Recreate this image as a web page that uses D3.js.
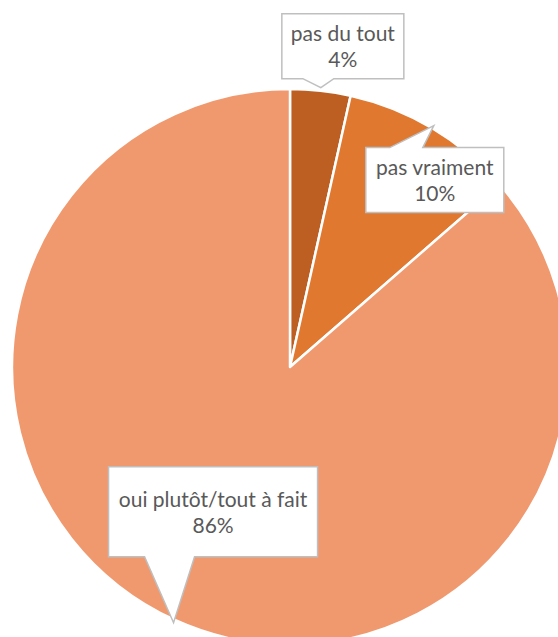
<!DOCTYPE html>
<html><head><meta charset="utf-8">
<script src="https://cdn.jsdelivr.net/npm/d3@7"></script>
<style>html,body{margin:0;padding:0;background:#fff;overflow:hidden}</style>
</head><body>
<svg id="chart" width="558" height="637"></svg>
<script>
const categories = ["pas du tout", "pas vraiment", "oui plutôt/tout à fait"];
const values = [3.5, 10.1, 86.4];
const colors = ["#BD5F23", "#E07830", "#F0996F"];

const W = 558, H = 637;
const cx = 290, cy = 367, R = 278;
const svg = d3.select("#chart");
const g = svg.append("g").attr("transform", `translate(${cx},${cy})`);

const pie = d3.pie().sort(null).value(d => d)(values);
const arc = d3.arc().innerRadius(0).outerRadius(R);

g.selectAll("path.slice").data(pie).enter().append("path")
  .attr("class", "slice")
  .attr("d", arc)
  .attr("fill", (d, i) => colors[i])
  .attr("stroke", "#fff")
  .attr("stroke-width", 2.5)
  .attr("stroke-linejoin", "round");

// callout layout (box relative to pointer tip)
const layout = [
  {dx: -39, dy: -74, w: 122, h: 65, b0: 21, b1: 52, side: "bottom"},
  {dx: -68, dy: 22, w: 138, h: 65, b0: 24, b1: 57, side: "top"},
  {dx: -65, dy: -156, w: 209, h: 90, b0: 36, b1: 86, side: "bottom"}
];

const total = d3.sum(values);
pie.forEach((d, i) => {
  const a = (d.startAngle + d.endAngle) / 2;
  const tx = cx + (R + 3) * Math.sin(a);
  const ty = cy - (R + 3) * Math.cos(a);
  const L = layout[i];
  const x0 = tx + L.dx, y0 = ty + L.dy, x1 = x0 + L.w, y1 = y0 + L.h;
  let pts;
  if (L.side === "bottom") {
    pts = [[x0, y0], [x1, y0], [x1, y1], [x0 + L.b1, y1], [tx, ty], [x0 + L.b0, y1], [x0, y1]];
  } else {
    pts = [[x0, y0], [x0 + L.b0, y0], [tx, ty], [x0 + L.b1, y0], [x1, y0], [x1, y1], [x0, y1]];
  }
  svg.append("path")
    .attr("d", d3.line()(pts) + "Z")
    .attr("fill", "#fff")
    .attr("stroke", "#BFBFBF")
    .attr("stroke-width", 1.5);
  const mx = (x0 + x1) / 2, my = (y0 + y1) / 2;
  const t = svg.append("text")
    .attr("text-anchor", "middle")
    .attr("font-family", "Lato, 'Open Sans', sans-serif")
    .attr("font-size", 21)
    .attr("fill", "#595959");
  t.append("tspan").attr("x", mx).attr("y", my - 5).text(categories[i]);
  t.append("tspan").attr("x", mx).attr("y", my + 21).text(Math.round(values[i] / total * 100) + "%");
});
</script>
</body></html>
